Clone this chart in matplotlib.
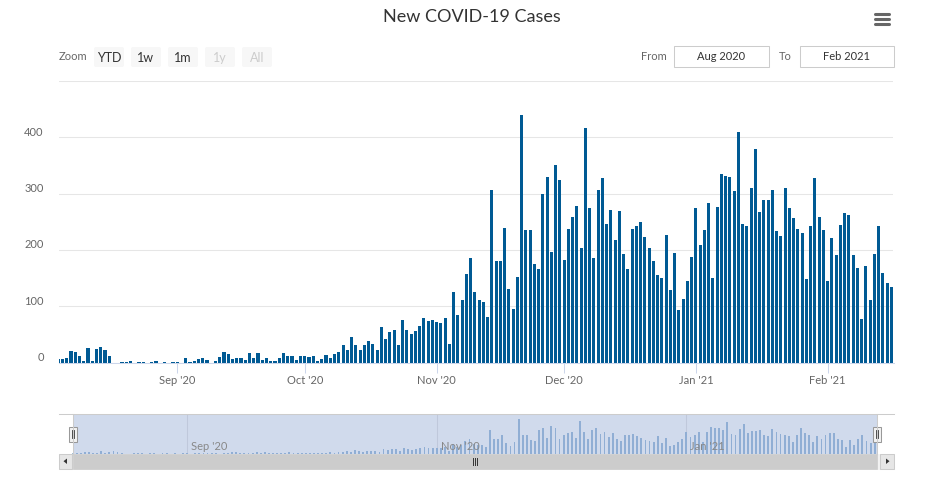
import numpy as np
import pandas as pd
import matplotlib
matplotlib.use("Agg")
import matplotlib.pyplot as plt
import matplotlib.dates as mdates
from matplotlib.patches import Rectangle, FancyBboxPatch, Polygon
from matplotlib.transforms import ScaledTranslation, blended_transform_factory

plt.rcParams['font.family'] = ['Lato', 'DejaVu Sans']

# daily new cases, 4 Aug 2020 .. 16 Feb 2021
start_day = "2020-08-04"
cases = [
    7, 7, 8, 21, 19, 12, 3, 26, 3, 25, 28, 23, 12, 0, 0, 2, 2, 3, 0, 2,
    2, 0, 2, 3, 0, 2, 0, 2, 2, 0, 8, 2, 3, 7, 8, 5, 0, 3, 10, 19,
    16, 7, 8, 8, 5, 17, 8, 17, 5, 8, 3, 3, 8, 17, 12, 12, 5, 12, 12, 10,
    12, 3, 7, 14, 8, 16, 19, 31, 23, 45, 31, 23, 31, 38, 33, 23, 63, 42, 54, 58,
    31, 75, 58, 51, 56, 65, 79, 74, 75, 72, 70, 79, 33, 126, 84, 112, 157, 185, 125, 111,
    108, 81, 306, 181, 181, 239, 131, 96, 152, 440, 235, 235, 175, 166, 299, 330, 196, 351, 324, 182,
    237, 259, 278, 204, 417, 275, 186, 306, 328, 246, 271, 218, 269, 193, 166, 237, 243, 250, 223, 204,
    180, 156, 150, 227, 129, 195, 93, 113, 145, 188, 275, 209, 235, 283, 150, 276, 335, 331, 330, 305,
    409, 246, 243, 310, 379, 267, 289, 289, 307, 234, 225, 310, 275, 257, 237, 230, 149, 243, 328, 259,
    235, 145, 221, 191, 244, 266, 262, 191, 168, 78, 172, 111, 193, 243, 159, 141, 134,
]
y_ticks = [0, 100, 200, 300, 400, 500]
y_labels = ["0", "100", "200", "300", "400", ""]
zoom_buttons = ["YTD", "1w", "1m", "1y", "All"]
range_from = "Aug 2020"
range_to = "Feb 2021"

dates = pd.date_range(start_day, periods=len(cases), freq="D")
x = mdates.date2num(dates)
view_from, view_to = x[0] + 0.18, x[0] + 196.5
nav_from, nav_to = x[0] - 3.3, x[0] + 200.6

W, H = 945, 494
bar_color = "#005a94"
label_color = "#666666"

fig = plt.figure(figsize=(W / 100, H / 100), dpi=100)


def box(l, t, r, b):
    return [l / W, 1 - b / H, (r - l) / W, (b - t) / H]


# main chart
ax = fig.add_axes(box(59, 80.9, 893.5, 362.7))
ax.bar(x, cases, width=0.72, color=bar_color, linewidth=0, zorder=2)
ax.set_xlim(view_from, view_to)
ax.set_ylim(0, 500)
ax.set_yticks(y_ticks)
ax.set_yticklabels(y_labels)
ax.grid(axis="y", color="#e6e6e6", linewidth=0.75, zorder=0)
for s in ["top", "right", "left"]:
    ax.spines[s].set_visible(False)
ax.spines["bottom"].set_color("#ccd6eb")
ax.spines["bottom"].set_linewidth(0.75)
ax.xaxis.set_major_locator(mdates.MonthLocator())
ax.xaxis.set_major_formatter(mdates.DateFormatter("%b '%y"))
ax.tick_params(axis="x", length=7.2, width=0.75, color="#ccd6eb",
               labelcolor=label_color, labelsize=8, pad=2)
ax.tick_params(axis="y", length=0, labelcolor=label_color, labelsize=8, pad=11)
for lbl in ax.get_yticklabels():
    lbl.set_transform(lbl.get_transform() + ScaledTranslation(0, 0.06, fig.dpi_scale_trans))

# navigator
nav = fig.add_axes(box(59, 414.3, 893.5, 453.5))
nav.bar(x, cases, width=0.45, color="#a3c0dc", linewidth=0, zorder=2)
nav.set_xlim(nav_from, nav_to)
nav.set_ylim(0, 505)
nav.set_xticks([])
nav.set_yticks([])
for s in nav.spines.values():
    s.set_visible(False)
for d in pd.date_range("2020-09-01", periods=3, freq="2MS"):
    nav.axvline(mdates.date2num(d), color="#e6e6e6", linewidth=0.75, zorder=1)
    nav.annotate(d.strftime("%b '%y"), xy=(mdates.date2num(d), 0),
                 xycoords=("data", "axes fraction"), xytext=(4, 3.5),
                 textcoords="offset pixels", va="baseline", ha="left",
                 fontsize=8, color="#888888", zorder=5)
nav.add_patch(Rectangle((view_from, 0), view_to - view_from, 1,
                        transform=blended_transform_factory(nav.transData, nav.transAxes),
                        facecolor=(102 / 255, 133 / 255, 194 / 255, 0.3),
                        edgecolor="none", zorder=3))

# pixel overlay for the chrome around the chart
ui = fig.add_axes([0, 0, 1, 1])
ui.set_xlim(0, W)
ui.set_ylim(H, 0)
ui.axis("off")
ui.set_zorder(10)

fig.text(472 / W, 1 - 17 / H, "New COVID-19 Cases", ha="center", va="center",
         fontsize=13, color="#333333")

for yy in [14.5, 19.5, 24.5]:
    ui.plot([875, 889], [yy, yy], color="#666666", linewidth=2.2, solid_capstyle="round")

ui.text(59, 57, "Zoom", ha="left", va="center", fontsize=8, color=label_color)
btn_left = [93, 130, 167, 204, 241]
for i, (bx, name) in enumerate(zip(btn_left, zoom_buttons)):
    ui.add_patch(FancyBboxPatch((bx + 1, 47), 30, 20, boxstyle="round,pad=0,rounding_size=2",
                                facecolor="#f7f7f7", edgecolor="none"))
    ui.text(bx + 16, 57.5, name, ha="center", va="center", fontsize=9,
            color="#333333" if i < 3 else "#cccccc")

ui.text(667, 56, "From", ha="right", va="center", fontsize=8, color=label_color)
ui.add_patch(Rectangle((673.5, 46.5), 95, 21, facecolor="white", edgecolor="#cccccc", linewidth=0.75))
ui.text(721, 56.5, range_from, ha="center", va="center", fontsize=8, color="#333333")
ui.text(792, 56, "To", ha="right", va="center", fontsize=8, color=label_color)
ui.add_patch(Rectangle((799.5, 46.5), 94, 21, facecolor="white", edgecolor="#cccccc", linewidth=0.75))
ui.text(846.5, 56.5, range_to, ha="center", va="center", fontsize=8, color="#333333")

# mask edges in pixels
to_px = lambda v: nav.transData.transform((v, 0))[0]
m0, m1 = to_px(view_from), to_px(view_to)

# navigator outline
ui.plot([59, 893.5], [414.3, 414.3], color="#cccccc", linewidth=0.75)
ui.plot([m0, m0], [414.3, 453.5], color="#cccccc", linewidth=0.75)
ui.plot([m1, m1], [414.3, 453.5], color="#cccccc", linewidth=0.75)

# scrollbar
ui.add_patch(Rectangle((59, 454), 834.5, 14.5, facecolor="#f2f2f2", edgecolor="#f2f2f2", linewidth=0.5))
ui.add_patch(Rectangle((m0, 454), m1 - m0, 14.5, facecolor="#cccccc", edgecolor="#cccccc", linewidth=0.5))
ui.add_patch(Rectangle((59, 454), 13.3, 14.5, facecolor="#e6e6e6", edgecolor="#cccccc", linewidth=0.75))
ui.add_patch(Rectangle((879.5, 454), 14, 14.5, facecolor="#e6e6e6", edgecolor="#cccccc", linewidth=0.75))
ui.add_patch(Polygon([[63.5, 461.2], [67, 458.5], [67, 464]], closed=True, facecolor="#333333", edgecolor="none"))
ui.add_patch(Polygon([[889.5, 461.2], [886, 458.5], [886, 464]], closed=True, facecolor="#333333", edgecolor="none"))
mid = (m0 + m1) / 2
for dx in [-2, 0, 2]:
    ui.plot([mid + dx, mid + dx], [458, 465], color="#333333", linewidth=0.7)

# navigator handles
for hx in [m0, m1]:
    ui.add_patch(Rectangle((hx - 4, 426.5), 8, 15, facecolor="#f2f2f2", edgecolor="#999999", linewidth=0.75))
    for dx in [-1.2, 1.2]:
        ui.plot([hx + dx, hx + dx], [430, 438], color="#333333", linewidth=0.6)

fig.savefig("out.png", dpi=100)
